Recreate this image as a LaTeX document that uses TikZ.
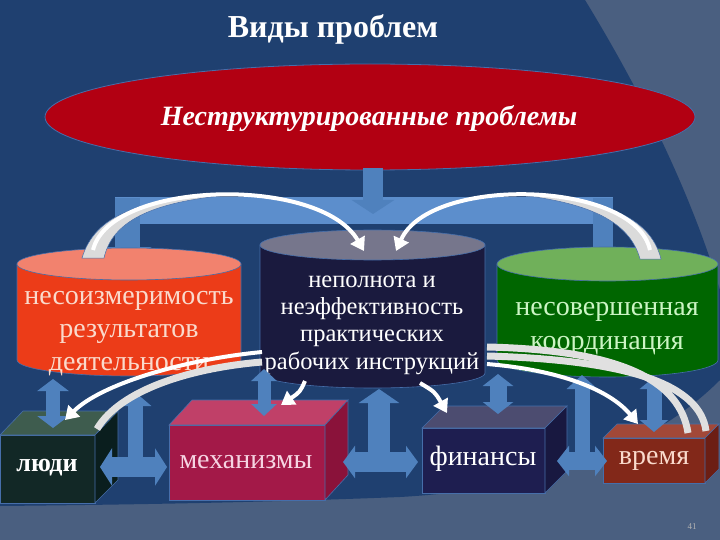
\documentclass[tikz,border=0pt]{standalone}
\usepackage{fontspec}
\setmainfont{Liberation Serif}
\usetikzlibrary{arrows.meta,shapes.geometric}

\definecolor{bgblue}{RGB}{31,64,112}
\definecolor{bggrey}{RGB}{74,95,128}
\definecolor{arrblue}{RGB}{79,129,189}
\definecolor{barblue}{RGB}{92,142,204}
\definecolor{ellred}{RGB}{178,0,18}
\definecolor{redbody}{RGB}{236,60,24}
\definecolor{redtop}{RGB}{242,130,110}
\definecolor{redtxt}{RGB}{250,218,204}
\definecolor{navybody}{RGB}{26,26,62}
\definecolor{navytop}{RGB}{118,118,140}
\definecolor{greenbody}{RGB}{0,102,0}
\definecolor{greentop}{RGB}{112,176,90}
\definecolor{greentxt}{RGB}{204,245,196}
\definecolor{ppfront}{RGB}{18,40,38}
\definecolor{pptop}{RGB}{62,92,78}
\definecolor{ppside}{RGB}{10,30,30}
\definecolor{mcfront}{RGB}{163,25,72}
\definecolor{mctop}{RGB}{192,64,104}
\definecolor{mcside}{RGB}{138,18,58}
\definecolor{mctxt}{RGB}{246,212,226}
\definecolor{fnfront}{RGB}{30,30,80}
\definecolor{fntop}{RGB}{76,76,112}
\definecolor{fnside}{RGB}{24,24,64}
\definecolor{tmfront}{RGB}{130,40,25}
\definecolor{tmtop}{RGB}{162,72,56}
\definecolor{tmside}{RGB}{108,30,20}
\definecolor{edgeblue}{RGB}{70,110,170}

\tikzset{
  bluearr/.style={draw=arrblue, line width=#1},
  uphead/.style={-{Triangle[width=#1,length=14pt]}},
  dblhead/.style={{Triangle[width=#1,length=12pt]}-{Triangle[width=#1,length=12pt]}},
  whitearr/.style={draw=white, line width=4pt, -{Triangle[width=16pt,length=13pt]}},
  greyband/.style={draw=black!12, line width=7pt},
  tailfill/.style={fill=black!14, draw=edgeblue, line width=0.5pt},
  cyltext/.style={align=center},
  boxtext/.style={font=\fontsize{28}{32}\selectfont},
  face/.style={draw=edgeblue, line width=0.6pt},
}

\begin{document}
\begin{tikzpicture}[x=1pt,y=-1pt]
\useasboundingbox (0,0) rectangle (720,540);
\fill[bggrey] (0,0) rectangle (720,540);
\fill[bgblue] (0,0) -- (585,0) .. controls (640,90) and (690,190) .. (720,290) -- (720,380)
  .. controls (660,440) and (560,488) .. (400,497) .. controls (250,503) and (100,505) .. (0,506) -- cycle;

\path (333,29) node[text=white, font=\fontsize{32}{38}\selectfont\bfseries] (title) {Виды проблем}
      (370,117) node[ellipse, fill=ellred, draw=edgeblue, line width=0.8pt, minimum width=650pt,
        minimum height=106pt, inner sep=0pt] (unstr) {}
      (369,119) node[text=white, font=\fontsize{28}{32}\selectfont\bfseries\itshape] (unstrtxt) {Неструктурированные проблемы}
      (692,527) node[text=black!30, font=\fontsize{9}{10}\selectfont] (pageno) {41};

\draw[bluearr=27pt, draw=barblue] (115,211) -- (613,211);
\draw[bluearr=20pt, uphead=42pt] (373,168) -- (373,214);
\draw[bluearr=25pt, uphead=48pt] (127.5,198) -- (127.5,261);
\draw[bluearr=20pt, uphead=42pt] (603,198) -- (603,261);

\filldraw[face, fill=redbody] (17,264) -- (17,360) arc[start angle=180, end angle=360, x radius=112pt, y radius=16pt] -- (241,264) -- cycle;
\filldraw[face, fill=redtop] (129,264) ellipse [x radius=112pt, y radius=16pt];
\filldraw[face, fill=navybody] (260,245) -- (260,373) arc[start angle=180, end angle=360, x radius=112.5pt, y radius=15pt] -- (485,245) -- cycle;
\filldraw[face, fill=navytop] (372.5,245) ellipse [x radius=112.5pt, y radius=15pt];
\filldraw[face, fill=greenbody] (497,264) -- (497,360) arc[start angle=180, end angle=360, x radius=110.5pt, y radius=17pt] -- (718,264) -- cycle;
\filldraw[face, fill=greentop] (607.5,264) ellipse [x radius=110.5pt, y radius=17pt];

\path (129,334) node[cyltext, text=redtxt, font=\fontsize{28}{33}\selectfont] (incomm) {несоизмеримость\\результатов\\деятельности}
      (372,325) node[cyltext, text=white, font=\fontsize{24.5}{27.3}\selectfont] (incompl)
        {неполнота и\\неэффективность\\практических\\рабочих инструкций}
      (607,329) node[cyltext, text=greentxt, font=\fontsize{28}{34}\selectfont] (imperf) {несовершенная\\координация};

\filldraw[face, fill=ppfront] (0,435) rectangle (95,503);
\filldraw[face, fill=pptop] (0,435) -- (95,435) -- (118,411) -- (23,411) -- cycle;
\filldraw[face, fill=ppside] (95,435) -- (118,411) -- (118,480) -- (95,503) -- cycle;
\filldraw[face, fill=mcfront] (169,425) rectangle (325,500);
\filldraw[face, fill=mctop] (169,425) -- (325,425) -- (348,400) -- (192,400) -- cycle;
\filldraw[face, fill=mcside] (325,425) -- (348,400) -- (348,475) -- (325,500) -- cycle;
\filldraw[face, fill=fnfront] (422,428) rectangle (545,493);
\filldraw[face, fill=fntop] (422,428) -- (545,428) -- (567,406) -- (444,406) -- cycle;
\filldraw[face, fill=fnside] (545,428) -- (567,406) -- (567,471) -- (545,493) -- cycle;
\filldraw[face, fill=tmfront] (603,438) rectangle (705,483);
\filldraw[face, fill=tmtop] (603,438) -- (705,438) -- (719,424) -- (617,424) -- cycle;
\filldraw[face, fill=tmside] (705,438) -- (719,424) -- (719,469) -- (705,483) -- cycle;

\path (47,468) node[text=white, font=\fontsize{26}{30}\selectfont\bfseries] (people) {люди}
      (246,462) node[boxtext, text=mctxt] (mech) {механизмы}
      (483,459) node[boxtext, text=white] (fin) {финансы}
      (654,461) node[boxtext, text=redtxt] (time) {время};

\draw[bluearr=14pt, dblhead=31pt] (53,379) -- (53,428);
\draw[bluearr=20pt, dblhead=37pt] (100,467) -- (167,467);
\draw[bluearr=15pt, uphead=32pt] (135,467) -- (135,392);
\draw[bluearr=13pt, dblhead=25pt] (264,369) -- (264,416);
\draw[bluearr=20pt, dblhead=32pt] (343,462) -- (418,462);
\draw[bluearr=22pt, uphead=40pt] (379,462) -- (379,389);
\draw[bluearr=17pt, dblhead=30pt] (498,374) -- (498,414);
\draw[bluearr=18pt, dblhead=30pt] (557,461) -- (607,461);
\draw[bluearr=15pt, uphead=30pt] (582,461) -- (582,375);
\draw[bluearr=15pt, dblhead=28pt] (654,377) -- (654,432);

\filldraw[tailfill] (82,258) .. controls (95,215) and (140,198) .. (230,195)
  .. controls (150,202) and (112,222) .. (104,258) -- cycle;
\filldraw[tailfill] (661,259) .. controls (650,215) and (600,198) .. (520,195)
  .. controls (590,203) and (630,222) .. (640,259) -- cycle;
\draw[whitearr] (93,250) .. controls (110,180) and (320,175) .. (364,251);
\draw[whitearr] (650,250) .. controls (635,180) and (430,175) .. (396,251);
\draw[greyband] (262,362) .. controls (190,368) and (120,390) .. (97,429);
\draw[whitearr] (262,352) .. controls (180,360) and (100,385) .. (65,420);
\draw[whitearr] (305,381) .. controls (300,392) .. (281,405);
\draw[whitearr] (420,383) .. controls (435,392) .. (447,413);
\draw[greyband] (487,347) .. controls (620,350) and (680,380) .. (688,433);
\draw[greyband] (487,356) .. controls (630,360) and (700,385) .. (706,431);
\draw[whitearr] (487,364) .. controls (560,370) and (610,390) .. (638,424);
\end{tikzpicture}
\end{document}
